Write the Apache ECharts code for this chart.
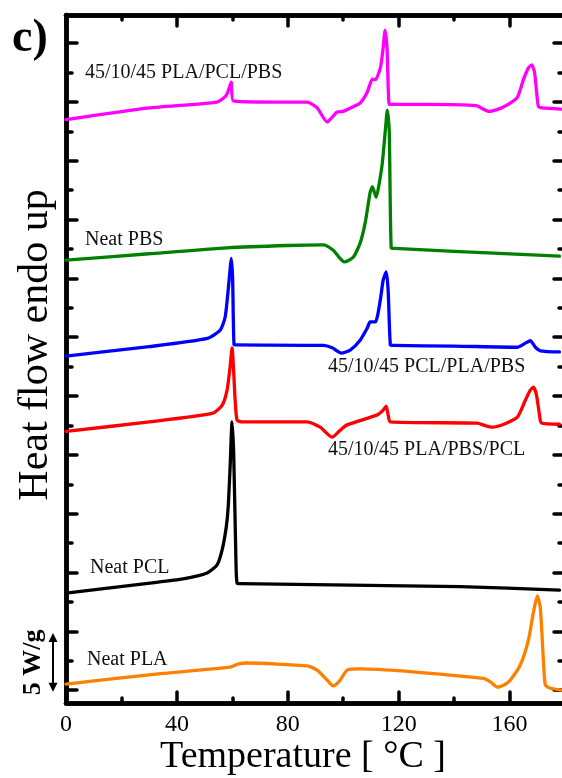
<!DOCTYPE html>
<html>
<head>
<meta charset="utf-8">
<script src="https://cdn.jsdelivr.net/npm/echarts@6/dist/echarts.min.js"></script>
<style>
  html, body { margin: 0; padding: 0; background: #ffffff; }
  #chart { width: 562px; height: 778px; }
</style>
</head>
<body>
<div id="chart"></div>
<script>
// Temperature axis ticks (°C)
const tempMajorTicks = [0, 40, 80, 120, 160];
const tempMinorTicks = [20, 60, 100, 140];
// Heat-flow axis ticks (W/g, curves are vertically offset)
const flowMajorTicks = [0, 5, 10, 15, 20, 25, 30, 35, 40, 45, 50, 55];
const flowMinorTicks = [2.5, 7.5, 12.5, 17.5, 22.5, 27.5, 32.5, 37.5, 42.5, 47.5, 52.5];

// DSC traces: [temperature °C, heat flow W/g + offset]
const blendPLAPCLPBS = [[0,48.5],[30,49.5],[54.5,50.0],[57.6,50.5],[58.6,51.0],[59.6,51.7],[60.3,50.1],[75,50.0],[87,50.0],[90.6,49.5],[94.2,48.3],[96,48.7],[97.8,49.15],[100,49.2],[103.6,49.6],[106.1,49.9],[108.7,50.85],[110.5,51.95],[111.6,51.9],[113.4,52.9],[114.4,54.6],[115.1,56.1],[115.8,54.6],[116.6,49.8],[117.7,49.8],[130,49.8],[148,49.7],[150.5,49.4],[152.5,49.2],[156,49.4],[159.2,49.75],[162.8,50.4],[165,51.9],[166.8,52.9],[168,53.15],[169,52.55],[169.7,51.0],[170.4,49.65],[171.8,49.5],[178.5,49.4]];
const neatPBS = [[0,36.55],[30,37.1],[58.1,37.6],[80,37.8],[92.8,37.85],[96.4,37.4],[98.5,36.8],[100.4,36.4],[103.6,36.8],[106.1,38.0],[107.9,39.7],[109.7,42.3],[110.5,42.8],[111.9,41.9],[113,43.1],[114.1,44.8],[115.2,47.6],[115.9,49.3],[116.6,47.6],[117.3,37.6],[118.5,37.55],[140,37.3],[178,36.9]];
const blendPCLPLAPBS = [[0,28.4],[30,29.2],[51,29.9],[55.6,30.6],[57.4,31.7],[58.5,34.0],[59.2,35.8],[59.6,36.7],[60.1,35.0],[60.6,29.4],[61.5,29.35],[92.8,29.3],[96,29.1],[99.3,28.65],[102.5,28.9],[106.1,29.75],[108.7,30.8],[109.7,31.3],[111.6,31.3],[113.4,33.2],[114.4,34.85],[115.5,35.55],[116.2,34.0],[117,29.35],[118,29.3],[140,29.25],[162.8,29.15],[165.7,29.5],[167.5,29.7],[169.3,29.15],[171.1,28.85],[178,28.75]];
const blendPLAPBSPCL = [[0,22.0],[30,22.8],[53,23.55],[56.3,24.2],[58.1,25.5],[59.2,27.5],[59.9,29.1],[60.5,27.0],[61,24.7],[61.7,22.95],[63.5,22.8],[87,22.8],[91.7,22.35],[96,21.5],[98.9,22.1],[101.4,22.55],[112.3,23.4],[114.4,23.8],[115.5,24.15],[116.2,23.4],[117,22.8],[148.4,22.7],[151,22.5],[153.8,22.35],[158,22.6],[162.8,23.2],[165.7,24.65],[167.5,25.5],[168.6,25.75],[169.7,25.1],[170.8,23.4],[171.5,22.7],[178,22.6]];
const neatPCL = [[0,8.25],[30.3,9.1],[42.2,9.45],[50.9,9.95],[54.5,10.65],[56.3,11.9],[57.8,13.85],[58.5,15.55],[59.2,18.95],[59.9,22.8],[60.5,20.0],[61.3,11.0],[61.7,9.1],[63,9.05],[142.2,8.8],[178,8.5]];
const neatPLA = [[0,0.5],[30,1.3],[59.2,1.95],[62,2.2],[65.3,2.3],[87,2.05],[90.6,1.7],[94.2,0.85],[96.4,0.35],[98.9,0.85],[101.4,1.7],[106.1,1.8],[150.5,1.0],[153.1,0.7],[155.6,0.25],[158.5,0.5],[160.3,0.85],[163.9,2.15],[166.8,4.25],[168.6,6.6],[170,8.0],[171.1,7.0],[172.2,2.55],[172.9,0.45],[174.7,0.15],[179,0.0]];

const seriesNames = ['45/10/45 PLA/PCL/PBS', 'Neat PBS', '45/10/45 PCL/PLA/PBS', '45/10/45 PLA/PBS/PCL', 'Neat PCL', 'Neat PLA'];
const seriesData = [blendPLAPCLPBS, neatPBS, blendPCLPLAPBS, blendPLAPBSPCL, neatPCL, neatPLA];
const seriesColors = ['#ff00ff', '#008000', '#0000ff', '#ff0000', '#000000', '#ff8000'];
const scaleBarWg = 5;

const FONT = 'Liberation Serif';
const chart = echarts.init(document.getElementById('chart'), null, { renderer: 'canvas' });

function xAxisDef(position, ticks, len, labels) {
  return {
    type: 'value', position: position, min: 0, max: 180,
    axisLine: { show: true, onZero: false, lineStyle: { color: '#000', width: 4.5 } },
    axisTick: { show: true, inside: true, length: len, customValues: ticks,
      lineStyle: { color: '#000', width: 3.5, cap: 'round' } },
    axisLabel: labels ? { show: true, customValues: ticks, margin: 10,
      fontFamily: FONT, fontSize: 24, color: '#000' } : { show: false },
    splitLine: { show: false }
  };
}
function yAxisDef(position, ticks, len) {
  return {
    type: 'value', position: position, min: -1.1, max: 57.4,
    axisLine: { show: true, onZero: false, lineStyle: { color: '#000', width: 4.5 } },
    axisTick: { show: true, inside: true, length: len, customValues: ticks,
      lineStyle: { color: '#000', width: 3.5, cap: 'round' } },
    axisLabel: { show: false },
    splitLine: { show: false }
  };
}

const labelStyle = { fontFamily: FONT, fontSize: 20, fill: '#111' };
const option = {
  animation: false,
  backgroundColor: '#ffffff',
  grid: { left: 66, right: -3, top: 15, bottom: 75, containLabel: false, outerBoundsMode: 'none' },
  xAxis: [
    xAxisDef('bottom', tempMajorTicks, 11, true),
    xAxisDef('bottom', tempMinorTicks, 5, false),
    xAxisDef('top', tempMajorTicks, 11, false),
    xAxisDef('top', tempMinorTicks, 5, false)
  ],
  yAxis: [
    yAxisDef('left', flowMajorTicks, 11),
    yAxisDef('left', flowMinorTicks, 6),
    yAxisDef('right', flowMajorTicks, 11),
    yAxisDef('right', flowMinorTicks, 6)
  ],
  series: seriesData.map((d, i) => ({
    name: seriesNames[i], type: 'line', data: d,
    xAxisIndex: 0, yAxisIndex: 0,
    showSymbol: false, smooth: 0.2,
    lineStyle: { color: seriesColors[i], width: 3.3, join: 'round', cap: 'round' }
  })),
  graphic: [
    { type: 'text', left: 12, top: 16, style: { text: 'c)', fontFamily: FONT, fontSize: 46, fontWeight: 'bold', fill: '#000' } },
    { type: 'text', x: 303, y: 757, style: { text: 'Temperature [ °C ]', fontFamily: FONT, fontSize: 38, fill: '#000', align: 'center', verticalAlign: 'middle' } },
    { type: 'text', x: 36, y: 345, rotation: Math.PI / 2, style: { text: 'Heat flow endo up', fontFamily: FONT, fontSize: 42, fill: '#000', align: 'center', verticalAlign: 'middle' } },
    { type: 'text', x: 85, y: 73, style: Object.assign({ text: seriesNames[0], verticalAlign: 'middle' }, labelStyle) },
    { type: 'text', x: 85, y: 240, style: Object.assign({ text: seriesNames[1], verticalAlign: 'middle' }, labelStyle) },
    { type: 'text', x: 328, y: 367, style: Object.assign({ text: seriesNames[2], verticalAlign: 'middle' }, labelStyle) },
    { type: 'text', x: 328, y: 450, style: Object.assign({ text: seriesNames[3], verticalAlign: 'middle' }, labelStyle) },
    { type: 'text', x: 90, y: 568, style: Object.assign({ text: seriesNames[4], verticalAlign: 'middle' }, labelStyle) },
    { type: 'text', x: 87, y: 660, style: Object.assign({ text: seriesNames[5], verticalAlign: 'middle' }, labelStyle) }
  ]
};
chart.setOption(option);

// Scale bar (5 W/g) drawn beside the heat-flow axis
const barBottom = chart.convertToPixel({ yAxisIndex: 0 }, -0.15);
const barTop = chart.convertToPixel({ yAxisIndex: 0 }, -0.15 + scaleBarWg);
const bx = 53, head = 9, hw = 4.5;
chart.setOption({
  graphic: option.graphic.concat([
    { type: 'line', shape: { x1: bx, y1: barTop + head - 1, x2: bx, y2: barBottom - head + 1 }, style: { stroke: '#000', lineWidth: 2 } },
    { type: 'polygon', shape: { points: [[bx, barTop], [bx - hw, barTop + head], [bx + hw, barTop + head]] }, style: { fill: '#000' } },
    { type: 'polygon', shape: { points: [[bx, barBottom], [bx - hw, barBottom - head], [bx + hw, barBottom - head]] }, style: { fill: '#000' } },
    { type: 'text', x: 33, y: (barTop + barBottom) / 2, rotation: Math.PI / 2, style: { text: scaleBarWg + ' W/g', fontFamily: FONT, fontSize: 26, fontWeight: 'bold', fill: '#000', align: 'center', verticalAlign: 'middle' } }
  ])
}, { replaceMerge: ['graphic'] });
</script>
</body>
</html>
